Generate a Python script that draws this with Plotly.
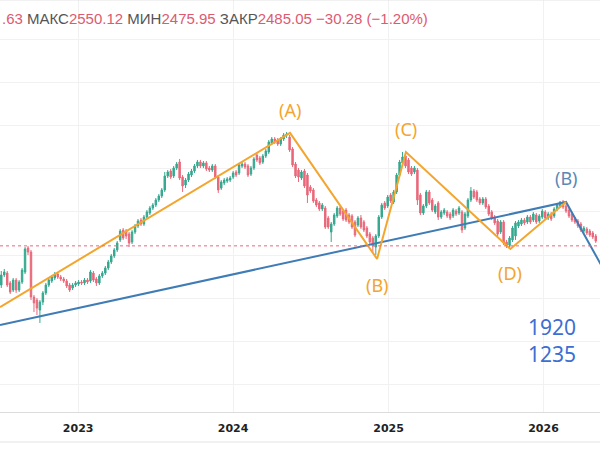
import pandas as pd
import plotly.graph_objects as go

dates = pd.date_range("2022-07-04", periods=201, freq="W-MON")

opens = [2121, 2214, 2232, 2140, 2074, 2167, 2074, 2149, 2242, 2465,
         2428, 2009, 1981, 1888, 1963, 2047, 2121, 2158, 2186, 2223,
         2195, 2177, 2158, 2121, 2093, 2121, 2130, 2149, 2140, 2167,
         2158, 2232, 2177, 2140, 2205, 2232, 2279, 2335, 2391, 2447,
         2540, 2632, 2623, 2595, 2521, 2614, 2670, 2725, 2688, 2753,
         2791, 2837, 2865, 2912, 2949, 3005, 3135, 3181, 3135, 3209,
         3265, 3125, 3051, 3097, 3144, 3181, 3228, 3265, 3228, 3256,
         3209, 3190, 3228, 3125, 3023, 3070, 3088, 3097, 3125, 3172,
         3163, 3228, 3246, 3228, 3153, 3209, 3330, 3302, 3265, 3321,
         3358, 3442, 3479, 3469, 3432, 3479, 3516, 3497, 3386, 3246,
         3190, 3116, 3181, 3144, 3032, 3005, 2912, 2884, 2828, 2837,
         2744, 2614, 2688, 2763, 2837, 2809, 2818, 2772, 2763, 2707,
         2679, 2744, 2707, 2651, 2595, 2558, 2474, 2577, 2753, 2884,
         2856, 2958, 2893, 2986, 3144, 3256, 3321, 3284, 3209, 3172,
         3190, 2958, 2791, 2856, 2986, 2912, 2800, 2884, 2753, 2791,
         2800, 2781, 2763, 2809, 2791, 2800, 2651, 2763, 2912, 2995,
         2986, 2921, 2884, 2921, 2856, 2800, 2753, 2716, 2614, 2707,
         2521, 2493, 2540, 2577, 2670, 2688, 2725, 2707, 2753, 2725,
         2772, 2716, 2753, 2800, 2744, 2781, 2763, 2828, 2856, 2893,
         2856, 2818, 2781, 2735, 2716, 2688, 2623, 2642, 2623, 2605,
         2577]
highs = [2251, 2270, 2251, 2158, 2186, 2186, 2167, 2279, 2474, 2484,
         2447, 2028, 2000, 1981, 2065, 2140, 2186, 2214, 2242, 2242,
         2214, 2195, 2177, 2140, 2140, 2158, 2167, 2167, 2186, 2186,
         2260, 2251, 2195, 2223, 2251, 2298, 2354, 2410, 2465, 2530,
         2642, 2651, 2642, 2614, 2632, 2688, 2735, 2744, 2772, 2818,
         2856, 2884, 2930, 2967, 3023, 3172, 3190, 3200, 3228, 3265,
         3293, 3144, 3116, 3172, 3200, 3246, 3284, 3284, 3274, 3274,
         3228, 3246, 3246, 3144, 3097, 3116, 3125, 3135, 3181, 3190,
         3256, 3265, 3265, 3246, 3228, 3311, 3349, 3321, 3339, 3386,
         3469, 3497, 3497, 3488, 3497, 3535, 3544, 3516, 3404, 3265,
         3209, 3190, 3200, 3163, 3051, 3023, 2930, 2902, 2884, 2856,
         2763, 2707, 2791, 2856, 2856, 2828, 2837, 2791, 2781, 2725,
         2763, 2772, 2725, 2670, 2614, 2577, 2595, 2772, 2884, 2902,
         2958, 2977, 3005, 3163, 3284, 3358, 3339, 3302, 3228, 3228,
         3209, 2977, 2874, 3005, 3005, 2930, 2874, 2902, 2818, 2837,
         2818, 2800, 2837, 2828, 2856, 2818, 2800, 2930, 3032, 3014,
         3005, 2939, 2939, 2939, 2874, 2818, 2772, 2735, 2725, 2725,
         2540, 2577, 2670, 2716, 2725, 2744, 2744, 2772, 2772, 2800,
         2791, 2781, 2828, 2818, 2800, 2800, 2846, 2884, 2902, 2912,
         2874, 2837, 2800, 2753, 2735, 2707, 2670, 2660, 2642, 2623,
         2595]
lows = [2093, 2195, 2102, 2037, 2056, 2047, 2056, 2130, 2223, 2400,
        1981, 1870, 1842, 1768, 1935, 2028, 2102, 2140, 2167, 2177,
        2158, 2140, 2093, 2056, 2074, 2102, 2112, 2121, 2121, 2130,
        2140, 2149, 2112, 2121, 2186, 2214, 2260, 2316, 2372, 2428,
        2521, 2540, 2549, 2474, 2502, 2595, 2651, 2670, 2670, 2735,
        2772, 2818, 2846, 2893, 2930, 2986, 3116, 3107, 3116, 3190,
        3097, 2986, 3023, 3079, 3125, 3163, 3209, 3209, 3209, 3181,
        3172, 3172, 3107, 2977, 3005, 3051, 3070, 3079, 3107, 3125,
        3144, 3209, 3200, 3125, 3135, 3190, 3265, 3237, 3246, 3302,
        3339, 3423, 3432, 3414, 3414, 3460, 3488, 3358, 3218, 3116,
        3079, 3097, 3023, 2884, 2977, 2884, 2846, 2809, 2809, 2642,
        2642, 2521, 2670, 2744, 2763, 2716, 2707, 2688, 2642, 2567,
        2660, 2642, 2614, 2558, 2502, 2428, 2400, 2558, 2735, 2818,
        2837, 2884, 2874, 2967, 3125, 3237, 3209, 3153, 3135, 3153,
        2865, 2772, 2772, 2837, 2865, 2800, 2781, 2725, 2735, 2772,
        2744, 2725, 2744, 2763, 2772, 2605, 2632, 2744, 2893, 2921,
        2893, 2865, 2865, 2828, 2763, 2725, 2679, 2577, 2595, 2493,
        2465, 2474, 2521, 2540, 2651, 2670, 2679, 2688, 2688, 2707,
        2688, 2698, 2735, 2725, 2725, 2716, 2744, 2809, 2837, 2828,
        2791, 2744, 2707, 2688, 2651, 2614, 2605, 2586, 2567, 2549,
        2512]
closes = [2214, 2242, 2121, 2056, 2167, 2074, 2149, 2260, 2456, 2428,
          2009, 1954, 1907, 1963, 2047, 2121, 2167, 2195, 2223, 2195,
          2177, 2158, 2112, 2074, 2121, 2140, 2149, 2140, 2167, 2149,
          2242, 2167, 2140, 2205, 2232, 2279, 2335, 2391, 2447, 2512,
          2623, 2558, 2577, 2512, 2614, 2670, 2716, 2688, 2753, 2800,
          2837, 2865, 2912, 2949, 3005, 3135, 3172, 3125, 3209, 3246,
          3116, 3042, 3097, 3153, 3181, 3228, 3265, 3228, 3256, 3200,
          3190, 3228, 3125, 3005, 3079, 3097, 3107, 3116, 3163, 3144,
          3237, 3246, 3218, 3144, 3209, 3293, 3284, 3256, 3321, 3367,
          3451, 3479, 3451, 3432, 3479, 3516, 3525, 3377, 3237, 3135,
          3125, 3172, 3042, 2958, 2995, 2902, 2865, 2828, 2865, 2660,
          2660, 2688, 2772, 2837, 2781, 2735, 2725, 2707, 2660, 2586,
          2744, 2660, 2632, 2577, 2521, 2484, 2577, 2753, 2865, 2837,
          2939, 2902, 2986, 3144, 3265, 3311, 3228, 3172, 3153, 3209,
          2912, 2791, 2856, 2986, 2884, 2818, 2856, 2753, 2800, 2818,
          2763, 2744, 2818, 2781, 2837, 2632, 2781, 2912, 2995, 2939,
          2912, 2884, 2921, 2846, 2781, 2744, 2698, 2595, 2707, 2512,
          2493, 2558, 2651, 2698, 2707, 2725, 2698, 2753, 2707, 2781,
          2707, 2763, 2809, 2744, 2781, 2735, 2828, 2865, 2893, 2846,
          2809, 2763, 2725, 2707, 2670, 2632, 2651, 2605, 2586, 2567,
          2530]

last_close = 2485.05

# wave markup (orange) and trend lines (blue)
wave_dates = ["2022-07-01", "2024-05-14", "2024-12-05", "2025-02-11", "2025-10-15", "2026-02-23"]
wave_prices = [1916, 3535, 2363, 3358, 2456, 2893]
trend_dates = ["2022-07-01", "2026-02-23", "2026-06-30"]
trend_prices = [1749, 2893, 1993]

wave_labels = ["(A)", "(B)", "(C)", "(D)"]
wave_label_dates = ["2024-05-14", "2024-12-05", "2025-02-11", "2025-10-15"]
wave_label_prices = [3748, 2121, 3572, 2233]
target_texts = ["1920", "1235"]
target_price_mid = 1605

year_ticks = ["2023-01-01", "2024-01-01", "2025-01-01", "2026-01-01"]
year_labels = ["2023", "2024", "2025", "2026"]

ORANGE = "#f3a52d"
BLUE = "#3f7cb6"

fig = go.Figure()
fig.add_trace(go.Candlestick(
    x=dates, open=opens, high=highs, low=lows, close=closes,
    increasing=dict(line=dict(color="#35a88f", width=1), fillcolor="#35a88f"),
    decreasing=dict(line=dict(color="#e9687a", width=1), fillcolor="#e9687a"),
    whiskerwidth=0, showlegend=False, hoverinfo="skip"))

fig.add_trace(go.Scatter(x=trend_dates, y=trend_prices, mode="lines",
                         line=dict(color=BLUE, width=2), showlegend=False, hoverinfo="skip"))
fig.add_trace(go.Scatter(x=wave_dates, y=wave_prices, mode="lines",
                         line=dict(color=ORANGE, width=2), showlegend=False, hoverinfo="skip"))

fig.add_hline(y=last_close, line=dict(color="#e9687a", width=1, dash="dot"))

for t, d, p in zip(wave_labels, wave_label_dates, wave_label_prices):
    fig.add_annotation(x=d, y=p, text=t, showarrow=False,
                       font=dict(color=ORANGE, size=18, family="Noto Sans"))
fig.add_annotation(x="2026-02-23", y=3116, text="(B)", showarrow=False,
                   font=dict(color="#5b88b4", size=18, family="Noto Sans"))
fig.add_annotation(x="2026-01-20", y=target_price_mid, text="<br>".join(target_texts),
                   showarrow=False, align="center",
                   font=dict(color="#3b6fd3", size=21, family="Noto Sans"))

red = "#de5a70"
gray = "#555555"
header = (f"<span style='color:{red}'>.63</span> "
          f"<span style='color:{gray}'>МАКС</span><span style='color:{red}'>2550.12</span> "
          f"<span style='color:{gray}'>МИН</span><span style='color:{red}'>2475.95</span> "
          f"<span style='color:{gray}'>ЗАКР</span><span style='color:{red}'>2485.05</span> "
          f"<span style='color:{red}'>−30.28 (−1.20%)</span>")
fig.add_annotation(xref="paper", yref="paper", x=0, y=1 - 19 / 412, xanchor="left", yanchor="middle",
                   text=header, showarrow=False, font=dict(size=15, family="Liberation Sans"))

fig.add_shape(type="line", xref="paper", yref="paper", x0=0, x1=1, y0=1, y1=1,
              line=dict(color="#e3e3e3", width=1))
fig.add_shape(type="line", xref="paper", yref="paper", x0=0, x1=1, y0=-30 / 412, y1=-30 / 412,
              line=dict(color="#e3e3e3", width=1))

fig.update_layout(
    width=600, height=450,
    margin=dict(l=0, r=0, t=0, b=38),
    paper_bgcolor="white", plot_bgcolor="white",
    showlegend=False,
    xaxis=dict(type="date", range=["2022-07-01", "2026-05-14"],
               rangeslider=dict(visible=False),
               tickvals=year_ticks, ticktext=year_labels,
               tickfont=dict(size=11, color="#222", family="DejaVu Sans", weight="bold"),
               showgrid=True, gridcolor="#f1f1f1", gridwidth=1,
               showline=True, linecolor="#dcdcdc", linewidth=1,
               ticks="", ticklabelstandoff=6, zeroline=False),
    yaxis=dict(range=[940, 4771.5], dtick=400, tick0=1200,
               showticklabels=False, showgrid=True, gridcolor="#f1f1f1",
               zeroline=False, ticks=""),
)

fig.write_html("out.html")
